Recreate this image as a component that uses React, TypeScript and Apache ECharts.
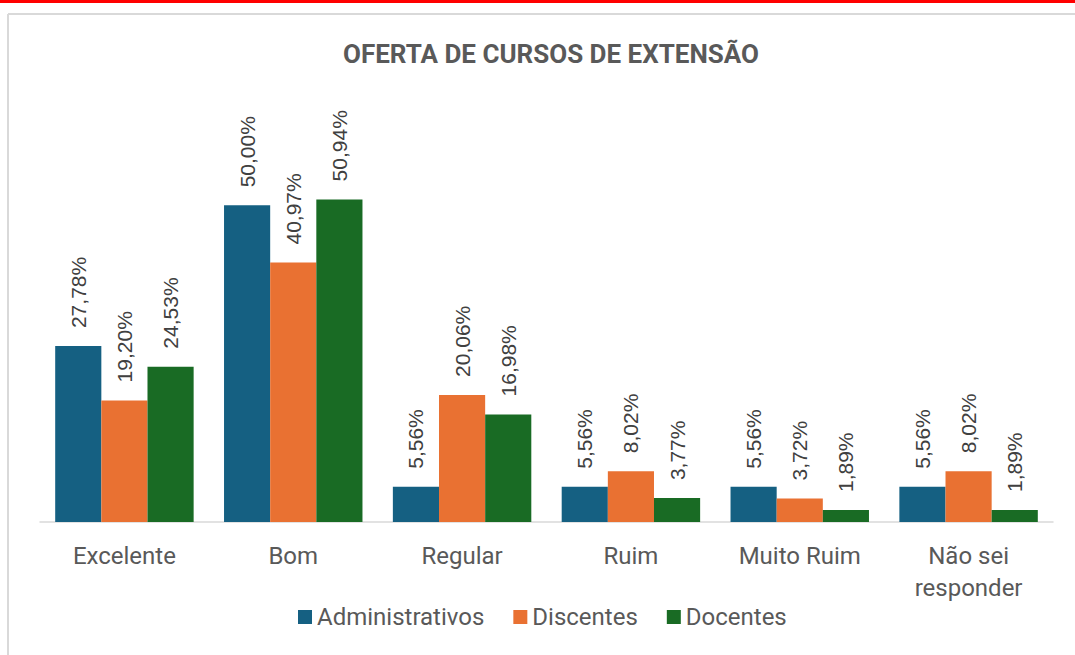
import React, { useEffect, useRef } from "react";
import * as echarts from "echarts";

const categories = ["Excelente", "Bom", "Regular", "Ruim", "Muito Ruim", "Não sei\nresponder"];
const administrativos = [27.78, 50.0, 5.56, 5.56, 5.56, 5.56];
const discentes = [19.2, 40.97, 20.06, 8.02, 3.72, 8.02];
const docentes = [24.53, 50.94, 16.98, 3.77, 1.89, 1.89];
const seriesNames = ["Administrativos", "Discentes", "Docentes"];
const colors = ["#156082", "#E97132", "#196B24"];

const fmt = (v: number) => v.toFixed(2).replace(".", ",") + "%";

export default function App() {
  const ref = useRef<HTMLDivElement>(null);
  useEffect(() => {
    if (!ref.current) return;
    const chart = echarts.init(ref.current, undefined, { renderer: "svg" });
    const data = [administrativos, discentes, docentes];
    chart.setOption({
      animation: false,
      backgroundColor: "#ffffff",
      title: {
        text: "OFERTA DE CURSOS DE EXTENSÃO",
        left: 546,
        textAlign: "center",
        top: 36,
        textStyle: {
          fontFamily: "Roboto, sans-serif",
          fontWeight: "bold",
          fontSize: 26,
          color: "#595959",
        },
      },
      graphic: [
        { type: "rect", shape: { x: 0, y: 0, width: 1075, height: 3 }, style: { fill: "#FF0000" } },
        { type: "line", shape: { x1: 8, y1: 14, x2: 1075, y2: 14 }, style: { stroke: "#d9d9d9", lineWidth: 2 } },
        { type: "line", shape: { x1: 8, y1: 14, x2: 8, y2: 655 }, style: { stroke: "#d9d9d9", lineWidth: 2 } },
      ],
      legend: {
        data: seriesNames,
        left: 293,
        top: 600,
        itemWidth: 14,
        itemHeight: 14,
        itemGap: 29,
        icon: "rect",
        textStyle: { fontFamily: "Roboto, sans-serif", fontSize: 24, color: "#595959" },
      },
      grid: { left: 40, right: 22, top: 142, bottom: 133 },
      xAxis: {
        type: "category",
        data: categories,
        axisTick: { show: false },
        axisLine: { lineStyle: { color: "#d9d9d9", width: 1.5 } },
        axisLabel: {
          fontFamily: "Roboto, sans-serif",
          fontSize: 24,
          color: "#595959",
          margin: 18,
          lineHeight: 32,
          interval: 0,
        },
      },
      yAxis: { type: "value", min: 0, max: 60, show: false, splitLine: { show: false } },
      series: seriesNames.map((name, i) => ({
        name,
        type: "bar",
        data: data[i],
        barGap: "0%",
        barCategoryGap: "18%",
        itemStyle: { color: colors[i] },
        label: {
          show: true,
          position: "top",
          rotate: 90,
          align: "left",
          verticalAlign: "middle",
          distance: 18,
          fontFamily: "Liberation Sans, Arial, sans-serif",
          fontSize: 21,
          color: "#404040",
          formatter: (p: any) => fmt(p.value),
        },
      })),
    });
    return () => chart.dispose();
  }, []);
  return <div ref={ref} style={{ position: "fixed", left: 0, top: 0, width: 1075, height: 655 }} />;
}
